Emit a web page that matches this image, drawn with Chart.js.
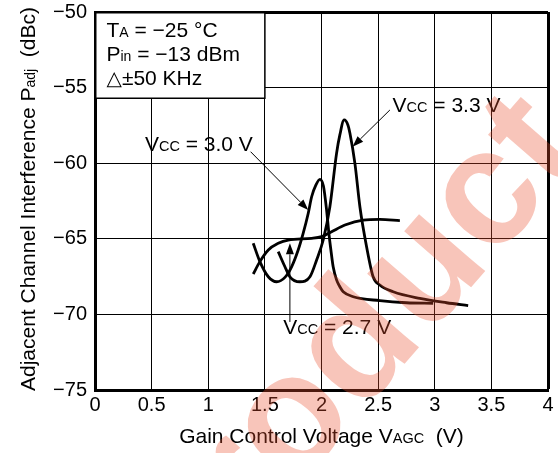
<!DOCTYPE html>
<html>
<head>
<meta charset="utf-8">
<script src="https://cdn.jsdelivr.net/npm/chart.js@4.4.1/dist/chart.umd.min.js"></script>
<style>
  html, body { margin: 0; padding: 0; background: #fff; }
  #wrap { width: 558px; height: 453px; }
</style>
</head>
<body>
<div id="wrap"><canvas id="c" width="558" height="453"></canvas></div>
<script>
// ---- data ----
const xTicks = [0, 0.5, 1, 1.5, 2, 2.5, 3, 3.5, 4];
const xTickLabels = ['0', '0.5', '1', '1.5', '2', '2.5', '3', '3.5', '4'];
const yTicks = [-75, -70, -65, -60, -55, -50];
const yTickLabels = ['−75', '−70', '−65', '−60', '−55', '−50'];

const vcc33X = [1.618, 1.677, 1.721, 1.809, 1.898, 1.957, 2.015, 2.074, 2.133, 2.162, 2.200, 2.233, 2.251, 2.295, 2.339, 2.398, 2.456, 2.515, 2.633, 2.868, 3.104, 3.295];
const vcc33Y = [-65.85, -66.85, -67.51, -67.84, -67.51, -66.40, -65.08, -62.88, -59.35, -58.13, -57.14, -57.47, -58.02, -60.01, -62.88, -65.52, -67.51, -68.06, -68.50, -68.94, -69.23, -69.42];

const vcc30X = [1.397, 1.456, 1.530, 1.604, 1.677, 1.736, 1.794, 1.838, 1.883, 1.913, 1.951, 1.986, 2.017, 2.045, 2.065, 2.083, 2.103, 2.133, 2.162, 2.192, 2.280, 2.515, 2.751, 2.986];
const vcc30Y = [-65.30, -66.51, -67.51, -67.84, -67.55, -66.85, -65.74, -64.64, -63.31, -62.22, -61.44, -61.07, -61.51, -63.10, -64.62, -65.74, -66.85, -67.72, -68.17, -68.50, -68.83, -69.09, -69.23, -69.27];

const vcc27X = [1.397, 1.456, 1.530, 1.618, 1.706, 1.913, 2.001, 2.089, 2.207, 2.368, 2.515, 2.692];
const vcc27Y = [-67.33, -66.51, -65.74, -65.30, -65.08, -64.97, -64.86, -64.53, -64.09, -63.76, -63.71, -63.80];

const seriesNames = ['VCC = 3.3 V', 'VCC = 3.0 V', 'VCC = 2.7 V'];

function pts(xs, ys) { return xs.map((x, i) => ({ x: x, y: ys[i] })); }

const FONT = "'Liberation Sans', Arial, 'DejaVu Sans', sans-serif";

function richWidth(ctx, parts) {
  let w = 0;
  for (const p of parts) { ctx.font = p[1] + 'px ' + FONT; w += ctx.measureText(p[0]).width; }
  return w;
}
function drawRich(ctx, parts, x, y, align) {
  let w = richWidth(ctx, parts);
  let cx = align === 'center' ? x - w / 2 : x;
  ctx.textAlign = 'left';
  ctx.textBaseline = 'alphabetic';
  for (const p of parts) {
    ctx.font = p[1] + 'px ' + FONT;
    ctx.fillText(p[0], cx, y);
    cx += ctx.measureText(p[0]).width;
  }
}
function arrow(ctx, x1, y1, x2, y2) {
  ctx.save();
  ctx.strokeStyle = '#000';
  ctx.fillStyle = '#000';
  ctx.lineWidth = 1;
  const a = Math.atan2(y2 - y1, x2 - x1);
  const L = 11, W = 4;
  const bx = x2 - L * Math.cos(a), by = y2 - L * Math.sin(a);
  ctx.beginPath(); ctx.moveTo(x1, y1); ctx.lineTo(bx, by); ctx.stroke();
  ctx.beginPath();
  ctx.moveTo(x2, y2);
  ctx.lineTo(bx + W * Math.sin(a), by - W * Math.cos(a));
  ctx.lineTo(bx - W * Math.sin(a), by + W * Math.cos(a));
  ctx.closePath(); ctx.fill();
  ctx.restore();
}

const annotations = {
  id: 'annotations',
  afterDatasetsDraw(chart) {
    const ctx = chart.ctx;
    const xs = chart.scales.x, ys = chart.scales.y;
    const X = v => xs.getPixelForValue(v), Y = v => ys.getPixelForValue(v);
    const ca = chart.chartArea;
    ctx.save();
    // inset box
    const bx2 = X(1.5), by2 = Y(-55.7);
    ctx.fillStyle = '#fff';
    ctx.fillRect(ca.left + 1.5, ca.top + 1.5, bx2 - ca.left - 1.5, by2 - ca.top - 1.5);
    ctx.strokeStyle = '#000';
    ctx.lineWidth = 1.5;
    ctx.beginPath();
    ctx.moveTo(bx2, ca.top); ctx.lineTo(bx2, by2); ctx.lineTo(ca.left, by2);
    ctx.stroke();
    ctx.fillStyle = '#000';
    const lx = ca.left + 11.5;
    drawRich(ctx, [['T', 21], ['A', 14], [' = −25 °C', 21]], lx, ca.top + 24.7);
    drawRich(ctx, [['P', 21], ['in', 14], [' = −13 dBm', 21]], lx, ca.top + 48.7);
    drawRich(ctx, [['△', 20], ['±50 KHz', 21]], lx, ca.top + 72.7);

    // series labels
    drawRich(ctx, [['V', 21], ['CC', 14.5], [' = 3.3 V', 21]], X(2.627), Y(-56.6));
    drawRich(ctx, [['V', 21], ['CC', 14.5], [' = 3.0 V', 21]], X(0.441), Y(-59.17));
    drawRich(ctx, [['V', 21], ['CC', 14.5], [' = 2.7 V', 21]], X(1.662), Y(-71.3));

    // arrows
    arrow(ctx, X(2.604), Y(-56.48), X(2.274), Y(-58.91));
    arrow(ctx, X(1.374), Y(-59.24), X(1.883), Y(-63.10));
    arrow(ctx, X(1.721), Y(-70.5), X(1.721), Y(-65.3));
    ctx.restore();
  },
  afterDraw(chart) {
    const ctx = chart.ctx;
    const ca = chart.chartArea;
    ctx.save();
    ctx.fillStyle = '#000';
    // x title
    drawRich(ctx, [['Gain Control Voltage V', 21], ['AGC', 14.5], ['  (V)', 21]], (ca.left + ca.right) / 2, 443, 'center');
    // y title
    ctx.translate(35, (ca.top + ca.bottom) / 2 - 2);
    ctx.rotate(-Math.PI / 2);
    drawRich(ctx, [['Adjacent Channel Interference P', 21], ['adj', 14], ['  (dBc)', 21]], 0, 0, 'center');
    ctx.restore();
    // watermark
    ctx.save();
    ctx.translate(294, 491);
    ctx.rotate(-49 * Math.PI / 180);
    ctx.font = "bold 165px 'Liberation Sans', Arial, sans-serif";
    ctx.fillStyle = 'rgba(235, 80, 45, 0.33)';
    ctx.textBaseline = 'alphabetic';
    ctx.textAlign = 'right';
    ctx.fillText('Pr', 0, 0);
    ctx.textAlign = 'left';
    ctx.fillText('oduct', 0, 0);
    ctx.restore();
  }
};

const lineStyle = {
  showLine: true, borderColor: '#000', backgroundColor: '#000', borderWidth: 2.8,
  pointRadius: 0, pointHoverRadius: 0, cubicInterpolationMode: 'monotone', fill: false
};

new Chart(document.getElementById('c'), {
  type: 'scatter',
  data: {
    datasets: [
      Object.assign({ label: seriesNames[0], data: pts(vcc33X, vcc33Y) }, lineStyle),
      Object.assign({ label: seriesNames[1], data: pts(vcc30X, vcc30Y) }, lineStyle),
      Object.assign({ label: seriesNames[2], data: pts(vcc27X, vcc27Y) }, lineStyle)
    ]
  },
  options: {
    responsive: false,
    animation: false,
    devicePixelRatio: 1,
    layout: { padding: { left: 0, right: 10, top: 12, bottom: 0 } },
    plugins: { legend: { display: false }, tooltip: { enabled: false }, title: { display: false } },
    scales: {
      x: {
        type: 'linear', min: 0, max: 4,
        afterFit: s => { s.height = 63; s.paddingLeft = 0; s.paddingRight = 0; },
        afterBuildTicks: s => { s.ticks = xTicks.map(v => ({ value: v })); },
        ticks: {
          color: '#000', padding: 3, maxRotation: 0, autoSkip: false,
          font: { family: FONT, size: 20 },
          callback: v => { const i = xTicks.indexOf(v); return i >= 0 ? xTickLabels[i] : ''; }
        },
        grid: { color: '#000', drawTicks: false, lineWidth: c => (c.tick && c.tick.value === 4) ? 3 : 1 },
        border: { display: true, color: '#000', width: 3 }
      },
      y: {
        type: 'linear', min: -75, max: -50,
        afterFit: s => { s.width = 95; s.paddingTop = 0; s.paddingBottom = 0; },
        afterBuildTicks: s => { s.ticks = yTicks.map(v => ({ value: v })); },
        ticks: {
          color: '#000', padding: 8, autoSkip: false,
          font: { family: FONT, size: 20 },
          callback: v => { const i = yTicks.indexOf(v); return i >= 0 ? yTickLabels[i] : ''; }
        },
        grid: { color: '#000', drawTicks: false, lineWidth: c => (c.tick && c.tick.value === -50) ? 3 : 1 },
        border: { display: true, color: '#000', width: 3 }
      }
    }
  },
  plugins: [annotations]
});
</script>
</body>
</html>
